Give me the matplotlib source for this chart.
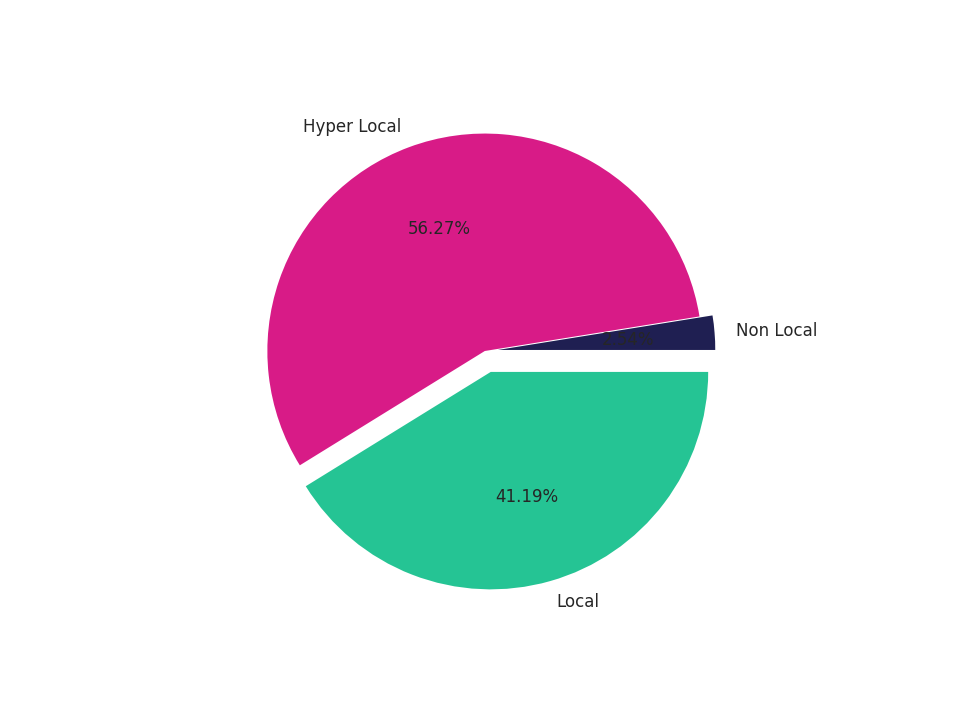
import matplotlib
matplotlib.use("Agg")
import matplotlib.pyplot as plt

labels = ["Non Local", "Hyper Local", "Local"]
values = [2.54, 56.27, 41.19]
colors = ["#1f1f52", "#d81b87", "#25c494"]
explode = [0.06, 0, 0.1]

fig = plt.figure(figsize=(9.6, 7.2), dpi=100)
ax = fig.add_axes([0.125, 0.135, 0.76, 0.755])
wedges, texts, autotexts = ax.pie(values, labels=labels, colors=colors, explode=explode,
                                  autopct="%.2f%%", startangle=0,
                                  textprops={"fontsize": 12, "color": "#262626"})
ax.set_aspect("equal")
fig.savefig("out.png", dpi=100)
